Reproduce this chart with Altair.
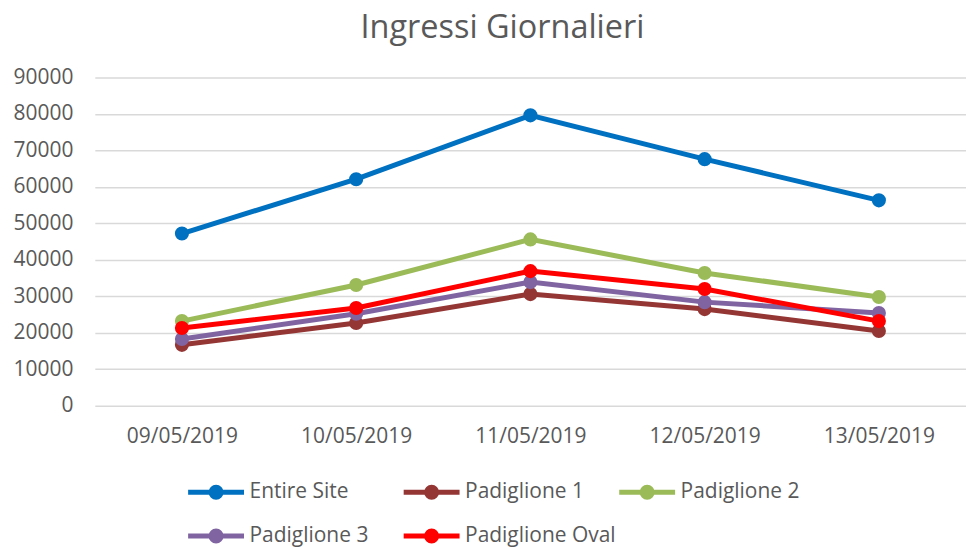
import altair as alt
import pandas as pd

dates = ["09/05/2019", "10/05/2019", "11/05/2019", "12/05/2019", "13/05/2019"]
series = ["Entire Site", "Padiglione 1", "Padiglione 2", "Padiglione 3", "Padiglione Oval"]
entire_site = [47200, 62100, 79600, 67600, 56300]
padiglione_1 = [16700, 22700, 30600, 26500, 20500]
padiglione_2 = [23200, 33100, 45600, 36400, 29800]
padiglione_3 = [18300, 25200, 33900, 28400, 25400]
padiglione_oval = [21300, 26800, 36900, 32000, 23200]
colors = ["#0070C0", "#943634", "#9BBB59", "#8064A2", "#FF0000"]

values = [entire_site, padiglione_1, padiglione_2, padiglione_3, padiglione_oval]
rows = []
for s, vals in zip(series, values):
    for d, v in zip(dates, vals):
        rows.append({"Data": d, "Serie": s, "Ingressi": v})
df = pd.DataFrame(rows)

FONT = "Open Sans"
GREY = "#595959"

# line with a round marker, drawn wider than the symbol's square box
legend_symbol = (
    "M-1,0L3,0 "
    "M1,-0.36A0.36,0.36 0 1,1 1,0.36A0.36,0.36 0 1,1 1,-0.36 "
    "M1,-0.12A0.12,0.12 0 1,1 1,0.12A0.12,0.12 0 1,1 1,-0.12"
)

chart = alt.Chart(df).mark_line(
    strokeWidth=5,
    point=alt.OverlayMarkDef(filled=True, size=200, opacity=1),
).encode(
    x=alt.X("Data:N", sort=dates, title=None,
            axis=alt.Axis(labelAngle=0, domain=False, ticks=False,
                          labelPadding=20, labelFontSize=21, labelColor=GREY,
                          labelFont=FONT)),
    y=alt.Y("Ingressi:Q", title=None,
            scale=alt.Scale(domain=[0, 90000], nice=False),
            axis=alt.Axis(values=list(range(0, 90001, 10000)), format="d",
                          domain=False, ticks=False, labelPadding=22,
                          labelFontSize=21, labelColor=GREY, labelFont=FONT,
                          gridColor="#D9D9D9", gridWidth=1.5)),
    color=alt.Color("Serie:N", sort=series,
                    scale=alt.Scale(domain=series, range=colors),
                    legend=alt.Legend(
                        title=None, orient="none", legendX=91, legendY=399,
                        direction="horizontal", columns=3, gridAlign="all",
                        columnPadding=-9, rowPadding=12,
                        symbolType=legend_symbol, symbolSize=784,
                        symbolStrokeWidth=5, labelOffset=31,
                        labelFontSize=21, labelColor=GREY, labelFont=FONT,
                    )),
    order=alt.Order("Serie:N"),
).properties(
    width=873,
    height=329,
    title=alt.TitleParams("Ingressi Giornalieri", fontSize=32.5, font=FONT,
                          color=GREY, fontWeight="normal", anchor="middle",
                          dx=-28, offset=22),
    padding={"left": 4, "top": 3, "right": 0, "bottom": 0},
).configure_view(stroke=None)

chart.save("out.html", embed_options={"renderer": "svg", "actions": False})
